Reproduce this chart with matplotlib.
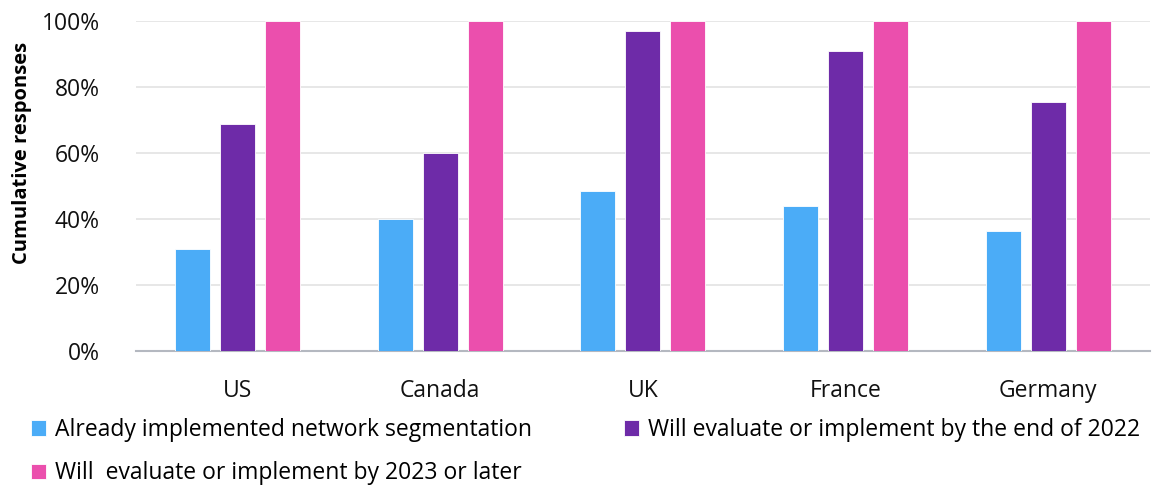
import numpy as np
import matplotlib.pyplot as plt
from matplotlib.ticker import PercentFormatter

countries = ["US", "Canada", "UK", "France", "Germany"]
series_names = [
    "Already implemented network segmentation",
    "Will evaluate or implement by the end of 2022",
    "Will  evaluate or implement by 2023 or later",
]
already = [31, 40, 48.5, 44, 36.5]
by_2022 = [69, 60, 97, 91, 75.5]
by_2023 = [100, 100, 100, 100, 100]
colors = ["#4BACF7", "#6E2BA8", "#EB4FAD"]

FONT = "Open Sans"
FONT_SIZE = 16.5

plt.rcParams["font.family"] = [FONT, "DejaVu Sans"]

fig = plt.figure(figsize=(11.53, 4.86), dpi=100)
ax = fig.add_axes([0.118, 0.278, 0.879, 0.678])

x = np.arange(len(countries))
width = 0.173
step = 0.222
for i, (vals, name, c) in enumerate(zip([already, by_2022, by_2023], series_names, colors)):
    ax.bar(x + (i - 1) * step, vals, width=width, color=c,
           edgecolor="white", linewidth=0.6, label=name, zorder=3)

ax.set_xlim(-0.5, len(countries) - 0.5)
ax.set_ylim(0, 100)
ax.set_yticks(np.arange(0, 101, 20))
ax.yaxis.set_major_formatter(PercentFormatter(decimals=0))
ax.set_xticks(x)
ax.set_xticklabels(countries)
ax.tick_params(axis="both", length=0, labelsize=FONT_SIZE, colors="#111111")
ax.tick_params(axis="y", pad=26)
ax.tick_params(axis="x", pad=20)
ax.grid(axis="y", color="#E3E3E3", linewidth=1.2, zorder=0)
for s in ["top", "right", "left"]:
    ax.spines[s].set_visible(False)
ax.spines["bottom"].set_color("#B4B8C0")
ax.spines["bottom"].set_linewidth(1.5)
ax.set_ylabel("Cumulative responses", fontsize=14.5, fontweight="bold")
ax.yaxis.set_label_coords(-0.103, 0.6)

handles, labels = ax.get_legend_handles_labels()
order = [0, 2, 1]
fig.legend([handles[i] for i in order], [labels[i] for i in order], ncol=2,
           loc="upper left", bbox_to_anchor=(0.027, 0.14),
           frameon=False, fontsize=FONT_SIZE, handlelength=0.65, handleheight=0.65,
           handletextpad=0.4, columnspacing=4.0, labelspacing=0.85,
           borderaxespad=0, borderpad=0)

fig.savefig("out.png", dpi=100)
